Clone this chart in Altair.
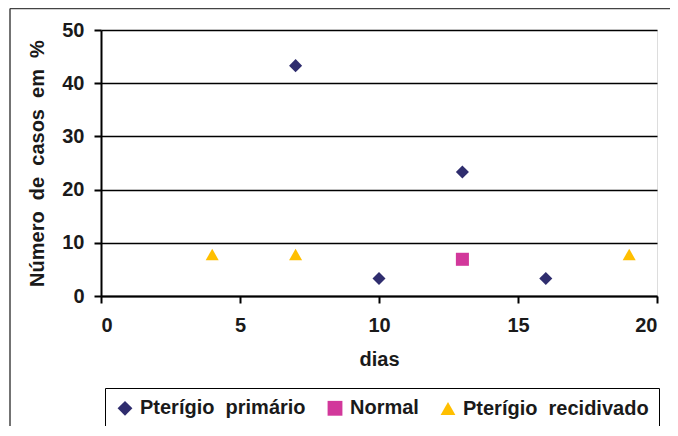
import altair as alt
import pandas as pd

series_names = ["Pterígio primário", "Normal", "Pterígio recidivado"]
prim_x = [7, 10, 13, 16]
prim_y = [43.3, 3.3, 23.3, 3.3]
norm_x = [13]
norm_y = [6.9]
rec_x = [4, 7, 19]
rec_y = [7.8, 7.8, 7.8]
x_ticks = [0, 5, 10, 15, 20]
y_ticks = [0, 10, 20, 30, 40, 50]
colors = ["#2F2D6E", "#D2389B", "#FFBF00"]
shapes = ["diamond", "square", "triangle-up"]

rows = []
for xs, ys, name in [(prim_x, prim_y, series_names[0]), (norm_x, norm_y, series_names[1]), (rec_x, rec_y, series_names[2])]:
    for a, b in zip(xs, ys):
        rows.append({"dias": a, "valor": b, "serie": name})
df = pd.DataFrame(rows)

FONT = "Liberation Sans"
TXT = "#1a1a1a"

points = alt.Chart(df).mark_point(filled=True, size=170, opacity=1).encode(
    x=alt.X("dias:Q", scale=alt.Scale(domain=[0, 20], nice=False),
            axis=alt.Axis(values=x_ticks, title="dias", grid=False, tickSize=7,
                          tickColor="black", domainColor="black", domainWidth=2, tickWidth=2,
                          labelFontSize=20, labelFontWeight="bold", labelColor=TXT,
                          labelPadding=12, titleFontSize=20, titleFontWeight="bold",
                          titleColor=TXT, titlePadding=14, labelFont=FONT, titleFont=FONT)),
    y=alt.Y("valor:Q", scale=alt.Scale(domain=[0, 50], nice=False),
            axis=alt.Axis(values=y_ticks, title="Número\u00a0\u00a0de\u00a0\u00a0casos\u00a0\u00a0em\u00a0\u00a0%",
                          grid=True, gridColor="black", gridWidth=1.5, gridOpacity=1,
                          tickSize=7, tickColor="black", domainColor="black", domainWidth=2,
                          tickWidth=2, labelFontSize=20, labelFontWeight="bold",
                          labelColor=TXT, labelPadding=10, titleFontSize=20,
                          titleFontWeight="bold", titleColor=TXT, titlePadding=14,
                          labelFont=FONT, titleFont=FONT)),
    color=alt.Color("serie:N", scale=alt.Scale(domain=series_names, range=colors),
                    legend=alt.Legend(title=None, orient="none", legendX=4, legendY=358,
                                      direction="horizontal", labelFontSize=20,
                                      labelFontWeight="bold", labelColor=TXT,
                                      labelFont=FONT, symbolSize=220, columnPadding=18,
                                      labelOffset=5, labelExpr="replace(datum.label, ' ', '\u00a0 ')",
                                      symbolOpacity=1, padding=10, strokeColor="black",
                                      labelLimit=300)),
    shape=alt.Shape("serie:N", scale=alt.Scale(domain=series_names, range=shapes)),
)

frame_top = alt.Chart(pd.DataFrame({"a": [0]})).mark_rule(color="#444", strokeWidth=1.5).encode(
    x=alt.value(-91), x2=alt.value(620), y=alt.value(-21.5))
frame_left = alt.Chart(pd.DataFrame({"a": [0]})).mark_rule(color="#444", strokeWidth=1.5).encode(
    x=alt.value(-91), y=alt.value(-21.5), y2=alt.value(400))

chart = alt.layer(points, frame_top, frame_left).properties(
    width=556, height=266,
    autosize=alt.AutoSizeParams(type="none"),
    padding={"left": 93, "top": 22, "right": 13, "bottom": 130},
).configure_view(stroke="black", strokeWidth=2).configure(background="white")

chart.save("out.html", embed_options={"renderer": "svg", "actions": False})
